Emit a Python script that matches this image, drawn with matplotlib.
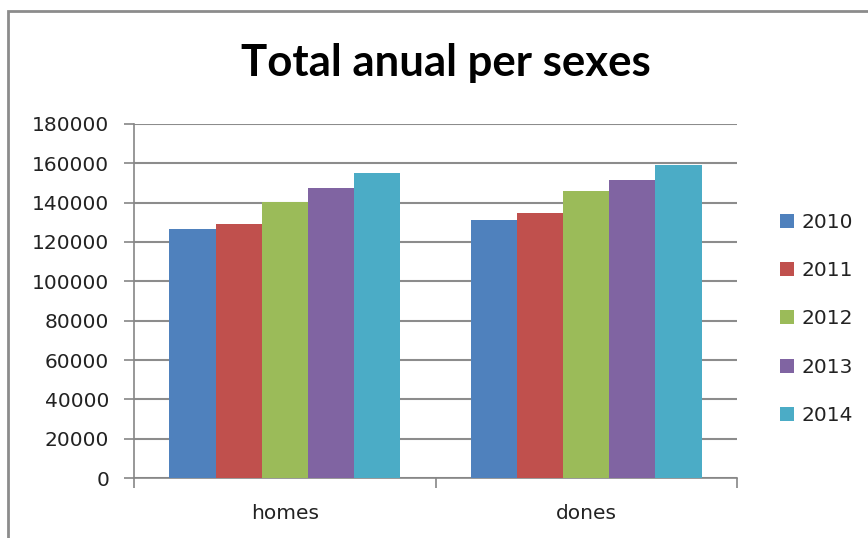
#!/usr/bin/env python3
"""Grouped bar chart: total annual per sex"""

import numpy as np
import matplotlib.pyplot as plt
from matplotlib.patches import Rectangle

categories = ["homes", "dones"]
years = ["2010", "2011", "2012", "2013", "2014"]
values = {
    "2010": [126500, 131000],
    "2011": [129300, 134500],
    "2012": [140300, 145700],
    "2013": [147600, 151700],
    "2014": [155000, 159000],
}
colors = ["#4F81BD", "#C0504D", "#9BBB59", "#8064A2", "#4BACC6"]

plt.rcParams["font.family"] = ["DejaVu Sans"]
plt.rcParams["text.color"] = "#222222"

fig = plt.figure(figsize=(8.68, 5.38), dpi=100)
ax = fig.add_axes([134 / 868, 1 - 478 / 538, (737 - 134) / 868, (478 - 124) / 538])

x = np.arange(len(categories))
w = 0.153
for i, yr in enumerate(years):
    ax.bar(x + (i - 2) * w, values[yr], w, color=colors[i], label=yr, zorder=3)

ax.set_xlim(-0.5, 1.5)
ax.set_ylim(0, 180000)
ax.set_yticks(np.arange(0, 180001, 20000))
ax.set_yticklabels([str(v) for v in range(0, 180001, 20000)], fontsize=14.5,
                   color="#222222")
ax.set_xticks(x)
ax.set_xticklabels(categories, fontsize=14.5, color="#222222")
ax.tick_params(axis="x", length=0, pad=19)
ax.set_xticks([-0.5, 0.5, 1.5], minor=True)
ax.tick_params(axis="x", which="minor", length=7, color="#868686", width=1.2)
ax.tick_params(axis="y", length=7, color="#868686", width=1.2, pad=11)
ax.grid(axis="y", color="#8c8c8c", linewidth=1.5, zorder=0)
for s in ["top", "right"]:
    ax.spines[s].set_visible(False)
for s in ["left", "bottom"]:
    ax.spines[s].set_color("#868686")
    ax.spines[s].set_linewidth(1.2)

fig.suptitle("Total anual per sexes", x=446 / 868, y=1 - 63 / 538, va="center",
             fontsize=31.5, fontweight="bold", family="Lato", color="black")

fig.legend(loc="center left", bbox_to_anchor=(762 / 868, 1 - 319 / 538),
           frameon=False, fontsize=14.5, handlelength=0.7, handleheight=0.7,
           handletextpad=0.35, labelspacing=1.45)

fig.patches.append(Rectangle((8 / 868, -0.1), 1.2, 1 - 11 / 538 + 0.1,
                             transform=fig.transFigure, fill=False,
                             edgecolor="#8c8c8c", linewidth=2))

fig.savefig("out.png", dpi=100)
